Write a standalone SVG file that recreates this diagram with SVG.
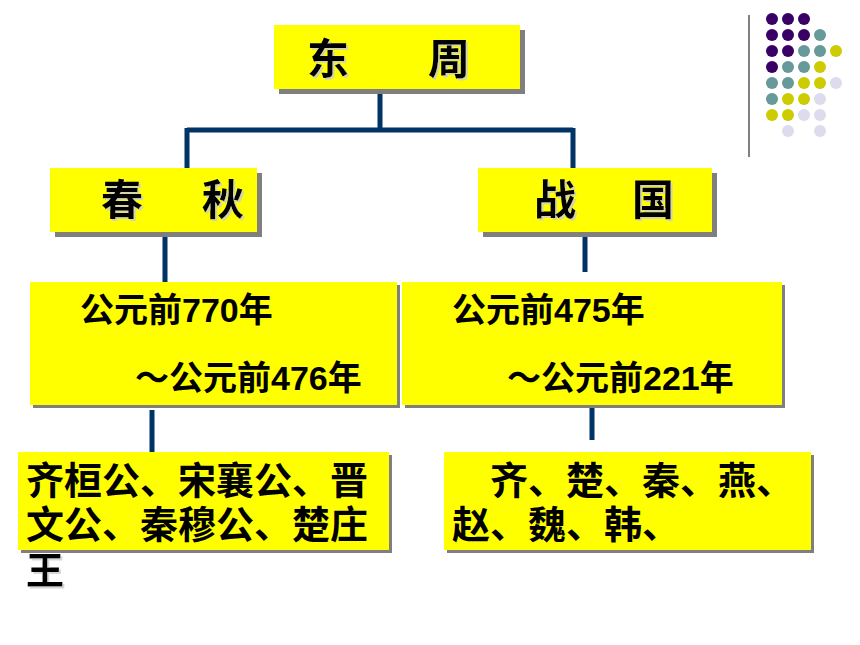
<svg xmlns="http://www.w3.org/2000/svg" width="860" height="645" viewBox="0 0 860 645">
<defs>
<filter id="tsh" x="-10%" y="-10%" width="130%" height="130%">
<feOffset in="SourceAlpha" dx="2" dy="2" result="o"/>
<feColorMatrix in="o" type="matrix" values="0 0 0 0 0.6 0 0 0 0 0.6 0 0 0 0 0.6 0 0 0 0.8 0" result="c"/>
<feMerge><feMergeNode in="c"/><feMergeNode in="SourceGraphic"/></feMerge>
</filter>
<style>
.box{fill:#ffff00}
.sh{fill:#7f7f7f}
.t{font-family:"Liberation Sans","Noto Sans CJK SC",sans-serif;fill:#000;font-weight:bold}
.h{font-size:42px;filter:url(#tsh)}
.c{stroke:#003366;stroke-width:5;fill:none}
.p{fill:#3a0066}.g{fill:#669999}.y{fill:#cccc00}.l{fill:#dcdcee}
</style>
</defs>
<rect width="860" height="645" fill="#fff"/>
<g id="connectors">
<path class="c" d="M380 89V130M187 130H573M187 128V168M573 128V168M165 232V282M585 232V272M152 410V452M592 405V440"/>
</g>
<g id="dongzhou">
<rect class="sh" x="279" y="30" width="246" height="64"/>
<rect class="box" x="274" y="25" width="246" height="64"/>
<text class="t h" x="307" y="74" letter-spacing="0">东<tspan x="428">周</tspan></text>
</g>
<g id="chunqiu">
<rect class="sh" x="55" y="173" width="207" height="64"/>
<rect class="box" x="50" y="168" width="207" height="64"/>
<text class="t h" x="101" y="215">春<tspan x="202">秋</tspan></text>
</g>
<g id="zhanguo">
<rect class="sh" x="483" y="173" width="234" height="64"/>
<rect class="box" x="478" y="168" width="234" height="64"/>
<text class="t h" x="534" y="215">战<tspan x="632">国</tspan></text>
</g>
<g id="date-left">
<rect class="sh" x="33" y="285" width="367" height="123"/>
<rect class="box" x="30" y="282" width="367" height="123"/>
<text class="t" x="80" y="322" font-size="34">公元前770年</text>
<text class="t" x="135" y="390" font-size="34">～公元前476年</text>
</g>
<g id="date-right">
<rect class="sh" x="405" y="285" width="380" height="123"/>
<rect class="box" x="402" y="282" width="380" height="123"/>
<text class="t" x="452" y="322" font-size="34">公元前475年</text>
<text class="t" x="507" y="390" font-size="34">～公元前221年</text>
</g>
<g id="people-left">
<rect class="sh" x="21" y="455" width="371" height="98"/>
<rect class="box" x="18" y="452" width="371" height="98"/>
<text class="t" x="26" y="494" font-size="38">齐桓公、宋襄公、晋</text>
<text class="t" x="26" y="538" font-size="38">文公、秦穆公、楚庄</text>
<text class="t" x="26" y="584" font-size="38" filter="url(#tsh)">王</text>
</g>
<g id="states-right">
<rect class="sh" x="447" y="455" width="367" height="98"/>
<rect class="box" x="444" y="452" width="367" height="98"/>
<text class="t" x="490" y="494" font-size="38">齐、楚、秦、燕、</text>
<text class="t" x="452" y="538" font-size="38">赵、魏、韩、</text>
</g>
<g id="deco">
<line x1="749" y1="15" x2="749" y2="157" stroke="#808080" stroke-width="2"/>
<circle class="p" cx="772" cy="19" r="6"/><circle class="p" cx="788" cy="19" r="6"/><circle class="p" cx="804" cy="19" r="6"/>
<circle class="p" cx="772" cy="35" r="6"/><circle class="p" cx="788" cy="35" r="6"/><circle class="p" cx="804" cy="35" r="6"/><circle class="g" cx="820" cy="35" r="6"/>
<circle class="p" cx="772" cy="51" r="6"/><circle class="p" cx="788" cy="51" r="6"/><circle class="g" cx="804" cy="51" r="6"/><circle class="g" cx="820" cy="51" r="6"/><circle class="y" cx="836" cy="51" r="6"/>
<circle class="p" cx="772" cy="67" r="6"/><circle class="g" cx="788" cy="67" r="6"/><circle class="g" cx="804" cy="67" r="6"/><circle class="y" cx="820" cy="67" r="6"/>
<circle class="g" cx="772" cy="83" r="6"/><circle class="g" cx="788" cy="83" r="6"/><circle class="y" cx="804" cy="83" r="6"/><circle class="y" cx="820" cy="83" r="6"/><circle class="l" cx="836" cy="83" r="6"/>
<circle class="g" cx="772" cy="99" r="6"/><circle class="y" cx="788" cy="99" r="6"/><circle class="y" cx="804" cy="99" r="6"/><circle class="l" cx="820" cy="99" r="6"/>
<circle class="y" cx="772" cy="115" r="6"/><circle class="y" cx="788" cy="115" r="6"/><circle class="l" cx="804" cy="115" r="6"/><circle class="l" cx="820" cy="115" r="6"/>
<circle class="l" cx="788" cy="131" r="6"/><circle class="l" cx="820" cy="131" r="6"/>
</g>
</svg>
